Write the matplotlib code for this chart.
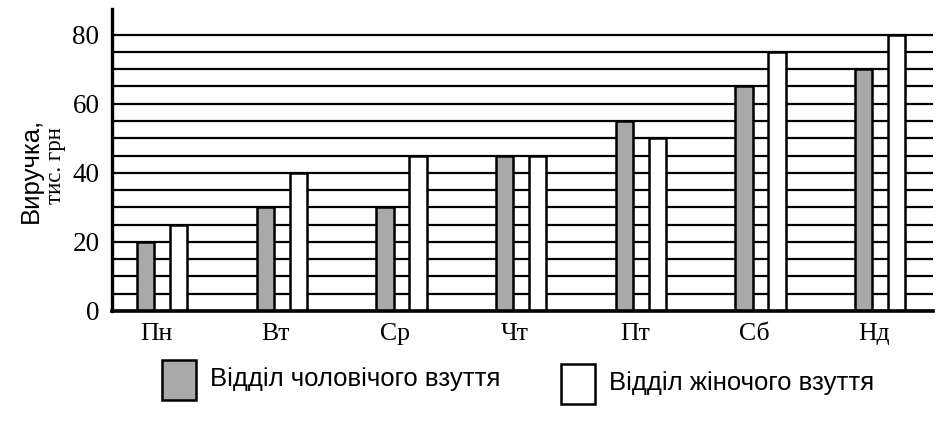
import numpy as np
import matplotlib
matplotlib.use("Agg")
import matplotlib.pyplot as plt
from matplotlib.patches import Rectangle

# дані з діаграми
days = ["Пн", "Вт", "Ср", "Чт", "Пт", "Сб", "Нд"]
men = [20, 30, 30, 45, 55, 65, 70]
women = [25, 40, 45, 45, 50, 75, 80]
y_ticks = [0, 20, 40, 60, 80]
legend_labels = ["Відділ чоловічого взуття", "Відділ жіночого взуття"]

gray = "#a9a9a9"
serif = "Liberation Serif"
sans = "Liberation Sans"

fig = plt.figure(figsize=(9.4, 4.21), dpi=100)
ax = fig.add_axes([0.1191, 0.2613, 0.8734, 0.7173])

x = np.arange(len(days))
w = 0.145
off = 0.138
ax.bar(x - off, men, width=w, color=gray, edgecolor="black", linewidth=1.8, zorder=3)
ax.bar(x + off, women, width=w, color="white", edgecolor="black", linewidth=1.8, zorder=3)

ax.set_xlim(-0.418, 6.44)
ax.set_ylim(0, 87.4)

# сітка через кожні 5
ax.set_yticks(y_ticks)
ax.set_yticks(np.arange(5, 81, 5), minor=True)
ax.yaxis.grid(True, which="both", color="black", linewidth=1.6, zorder=1)
ax.set_axisbelow(True)

ax.set_xticks(x - 0.05)
ax.set_xticklabels(days, fontfamily=serif, fontsize=18.5)
ax.set_yticklabels([str(t) for t in y_ticks], fontfamily=serif, fontsize=19.5)
ax.tick_params(axis="both", which="both", length=0)
ax.tick_params(axis="y", pad=9)
ax.tick_params(axis="x", pad=9)

for s in ["top", "right"]:
    ax.spines[s].set_visible(False)
ax.spines["left"].set_linewidth(2.4)
ax.spines["bottom"].set_linewidth(2.6)
ax.spines["left"].set_zorder(4)
ax.spines["bottom"].set_zorder(4)

# підпис осі y (два рядки різними шрифтами, як у підручнику)
fig.text(31 / 940, 1 - 170 / 421, "Виручка,", rotation=90,
         ha="center", va="center", fontfamily=sans, fontsize=18.5)
fig.text(55 / 940, 1 - 166 / 421, "тис. грн", rotation=90,
         ha="center", va="center", fontfamily=serif, fontsize=16.5)

# легенда вручну
fig.add_artist(Rectangle((162 / 940, 1 - 400 / 421), 34 / 940, 40 / 421,
                         transform=fig.transFigure, facecolor=gray,
                         edgecolor="black", linewidth=1.8))
fig.text(210 / 940, 1 - 379 / 421, legend_labels[0], ha="left", va="center",
         fontfamily=sans, fontsize=18.5)
fig.add_artist(Rectangle((561 / 940, 1 - 404 / 421), 34 / 940, 40 / 421,
                         transform=fig.transFigure, facecolor="white",
                         edgecolor="black", linewidth=1.8))
fig.text(609 / 940, 1 - 383 / 421, legend_labels[1], ha="left", va="center",
         fontfamily=sans, fontsize=18.5)

fig.savefig("out.png", dpi=100)
